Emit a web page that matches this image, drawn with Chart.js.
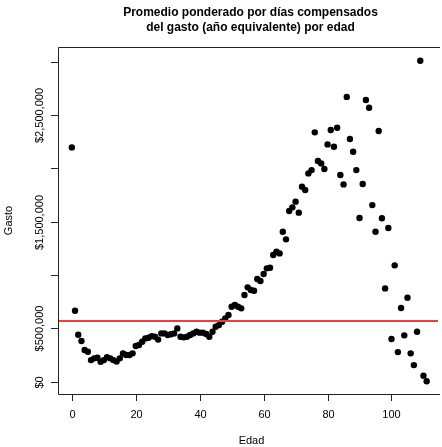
<!DOCTYPE html>
<html>
<head>
<meta charset="utf-8">
<script src="https://cdn.jsdelivr.net/npm/chart.js@4/dist/chart.umd.min.js"></script>
<style>
html,body{margin:0;padding:0;background:#fff}
#wrap{width:442px;height:447px;position:relative}
</style>
</head>
<body>
<div id="wrap"><canvas id="c" width="442" height="447"></canvas></div>
<script>
// edad (x) y gasto promedio (y)
const edades=[0,1,2,3,4,5,6,7,8,9,10,11,12,13,14,15,16,17,18,19,20,21,22,23,24,25,26,27,28,29,
  30,31,32,33,34,35,36,37,38,39,40,41,42,43,44,45,46,47,48,49,50,51,52,53,54,55,56,57,58,59,
  60,61,62,63,64,65,66,67,68,69,70,71,72,73,74,75,76,77,78,79,80,81,82,83,84,85,86,87,88,89,
  90,91,92,93,94,95,96,97,98,99,100,101,102,103,104,105,106,107,108,109,110,111];
const gasto=[2197000,665000,441000,382000,297000,281000,203000,219000,225000,188000,
  203000,230000,219000,203000,190000,219000,265000,250000,250000,266000,
  335000,344000,375000,406000,413000,428000,422000,395000,453000,453000,
  438000,445000,453000,500000,422000,416000,422000,438000,453000,469000,
  460000,460000,447000,422000,469000,516000,531000,563000,594000,625000,
  703000,719000,703000,688000,813000,885000,860000,853000,963000,944000,
  1010000,1063000,1069000,1188000,1219000,1203000,1406000,1335000,1600000,1635000,
  1688000,1585000,1828000,1797000,1953000,1984000,2338000,2069000,2047000,1994000,
  2225000,2360000,2203000,2381000,1938000,1850000,2670000,2276000,2156000,1984000,
  1535000,1853000,2641000,2569000,1656000,1406000,2350000,1532000,875000,1441000,
  400000,1091000,278000,691000,435000,788000,266000,156000,469000,3009000,
  56000,5000];
const lineaRef=570000;
const xTicks=[0,20,40,60,80,100];
const yTicks=[0,500000,1000000,1500000,2000000,2500000,3000000];
const yTickLabels=['$0','$500,000','','$1,500,000','','$2,500,000',''];
const titulo=['Promedio ponderado por días compensados','del gasto (año equivalente) por edad'];
const xTitulo='Edad', yTitulo='Gasto';
const xMin=-4.33, xMax=114.55, yMin=-115000, yMax=3138000;

const FONT='"Liberation Sans", Arial, Helvetica, sans-serif';

const ejes={
  id:'ejes',
  afterDraw(chart){
    const c=chart.ctx, a=chart.chartArea, sx=chart.scales.x, sy=chart.scales.y;
    c.save();
    c.strokeStyle='#222'; c.lineWidth=1;
    // caja
    c.beginPath();
    c.moveTo(a.right+2,a.top+0.5); c.lineTo(a.left+0.5,a.top+0.5);
    c.lineTo(a.left+0.5,a.bottom+0.5); c.lineTo(a.right+2,a.bottom+0.5);
    c.stroke();
    // ticks x
    c.fillStyle='#000'; c.font='11px '+FONT; c.textAlign='center'; c.textBaseline='middle';
    xTicks.forEach(t=>{
      const px=Math.round(sx.getPixelForValue(t))+0.5;
      c.beginPath(); c.moveTo(px,a.bottom); c.lineTo(px,a.bottom+7); c.stroke();
      c.fillText(String(t),px,a.bottom+21);
    });
    // ticks y
    yTicks.forEach((t,i)=>{
      const py=Math.round(sy.getPixelForValue(t))+0.5;
      c.beginPath(); c.moveTo(a.left,py); c.lineTo(a.left-7,py); c.stroke();
      if(yTickLabels[i]){
        c.save(); c.translate(a.left-18,py); c.rotate(-Math.PI/2);
        c.fillText(yTickLabels[i],0,0); c.restore();
      }
    });
    // títulos de ejes
    c.fillText(xTitulo,(a.left+445)/2,441);
    c.save(); c.translate(9,(a.top+a.bottom)/2); c.rotate(-Math.PI/2);
    c.fillText(yTitulo,0,0); c.restore();
    // título
    c.font='bold 12px '+FONT;
    c.fillText(titulo[0],(a.left+443)/2,13);
    c.fillText(titulo[1],(a.left+443)/2,28);
    c.restore();
  }
};

new Chart(document.getElementById('c'),{
  type:'scatter',
  data:{
    datasets:[
      {label:'ref',type:'line',data:[{x:xMin,y:lineaRef},{x:xMax,y:lineaRef}],
        borderColor:'#f03c3c',borderWidth:2,pointRadius:0,order:0},
      {label:'gasto',data:edades.map((e,i)=>({x:e,y:gasto[i]})),
        backgroundColor:'#000',borderColor:'#000',pointRadius:3.2,pointBorderWidth:0,order:1}
    ]
  },
  options:{
    responsive:false,animation:false,
    layout:{padding:{left:58,top:47,right:0,bottom:53}},
    plugins:{legend:{display:false},tooltip:{enabled:false},title:{display:false}},
    scales:{
      x:{type:'linear',min:xMin,max:xMax,display:false},
      y:{type:'linear',min:yMin,max:yMax,display:false}
    }
  },
  plugins:[ejes]
});
</script>
</body>
</html>
